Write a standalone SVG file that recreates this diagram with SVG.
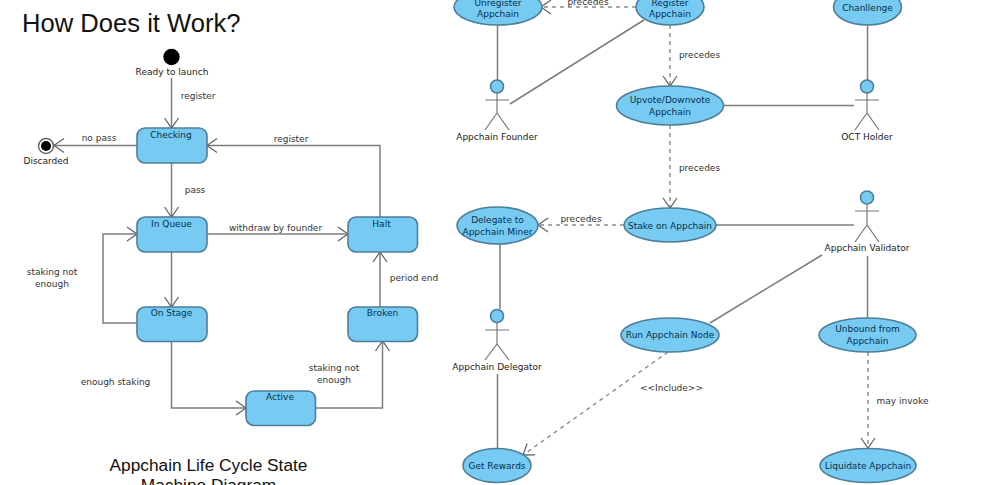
<svg xmlns="http://www.w3.org/2000/svg" width="996" height="485" viewBox="0 0 996 485">
<defs>
<marker id="open" markerUnits="userSpaceOnUse" markerWidth="14" markerHeight="16" refX="11" refY="7" orient="auto" overflow="visible"><path d="M1 0L11 7L1 14" fill="none" stroke="#666" stroke-width="1.3"/></marker>
</defs>
<style>
.t{font-family:"Liberation Sans",Arial,sans-serif;fill:#111}
.h{font-size:25.6px}
.c{font-size:17.3px;text-anchor:middle}
.l{font-family:"DejaVu Sans",sans-serif;font-size:9px;fill:#333;text-anchor:middle}
.a{font-family:"DejaVu Sans",sans-serif;font-size:9px;fill:#222;text-anchor:middle}
.n{font-family:"DejaVu Sans",sans-serif;font-size:9px;fill:#07304c;text-anchor:middle}
.s{fill:#77cbf3;stroke:#4d7f99;stroke-width:1.6}
.e{fill:none;stroke:#7d7d7d;stroke-width:1.5}
.d{fill:none;stroke:#8a8a8a;stroke-width:1.4;stroke-dasharray:4 4}
.f{fill:none;stroke:#777;stroke-width:1.2}
</style>
<rect width="996" height="485" fill="#fff"/>
<text class="t h" x="22" y="32">How Does it Work?</text>
<text class="t c" x="208.500" y="471">Appchain Life Cycle State</text>
<text class="t c" x="208.500" y="491">Machine Diagram</text>

<g id="connectors">
<path class="e" marker-end="url(#open)" d="M171.500 78V128"/>
<path class="e" marker-end="url(#open)" d="M137 145.500H54"/>
<path class="e" marker-end="url(#open)" d="M380 217V145.500H207"/>
<path class="e" marker-end="url(#open)" d="M171.500 163V217"/>
<path class="e" marker-end="url(#open)" d="M207 234H348"/>
<path class="e" marker-end="url(#open)" d="M137 323H103V234H137"/>
<path class="e" marker-end="url(#open)" d="M171.500 252V307"/>
<path class="e" marker-end="url(#open)" d="M171.500 341V408H246"/>
<path class="e" marker-end="url(#open)" d="M315 408H382.500V341"/>
<path class="e" marker-end="url(#open)" d="M380 307V252"/>
<path class="d" marker-end="url(#open)" d="M636 7H541"/>
<path class="d" marker-end="url(#open)" d="M670 25V86"/>
<path class="d" marker-end="url(#open)" d="M670 125V208"/>
<path class="d" marker-end="url(#open)" d="M624 225H538"/>
<path class="d" marker-end="url(#open)" d="M668 352L523 455"/>
<path class="d" marker-end="url(#open)" d="M868 352V448"/>
<path class="e" d="M497.500 25V80"/>
<path class="e" d="M644 20L510 104"/>
<path class="e" d="M724 105.500H854"/>
<path class="e" d="M867.500 25V80"/>
<path class="e" d="M716 225H854"/>
<path class="e" d="M822 255L710 323"/>
<path class="e" d="M867.500 256V318"/>
<path class="e" d="M500 244V309"/>
<path class="e" d="M497.500 374V449"/>
</g>

<g id="start"><circle cx="171.500" cy="57" r="8.200" fill="#000"/><text class="a" x="172" y="75">Ready to launch</text></g>
<g id="discarded"><circle cx="46" cy="146" r="7.500" fill="#fff" stroke="#666" stroke-width="1.500"/><circle cx="46" cy="146" r="5" fill="#000"/><text class="a" x="46" y="164">Discarded</text></g>
<g id="checking"><rect class="s" x="137" y="128" width="70" height="35" rx="8"/><text class="n" x="171" y="138">Checking</text></g>
<g id="in-queue"><rect class="s" x="137" y="217" width="70" height="35" rx="8"/><text class="n" x="171.500" y="227">In Queue</text></g>
<g id="on-stage"><rect class="s" x="137" y="307" width="70" height="34.500" rx="8"/><text class="n" x="171.500" y="316">On Stage</text></g>
<g id="active"><rect class="s" x="246" y="391" width="69.500" height="34.500" rx="8"/><text class="n" x="280" y="400">Active</text></g>
<g id="broken"><rect class="s" x="348" y="307" width="69.500" height="34.500" rx="8"/><text class="n" x="382.500" y="316">Broken</text></g>
<g id="halt"><rect class="s" x="348" y="217" width="69.500" height="35" rx="8"/><text class="n" x="381.500" y="227">Halt</text></g>

<g id="state-labels">
<text class="l" x="198" y="99">register</text>
<text class="l" x="99" y="141">no pass</text>
<text class="l" x="291" y="142">register</text>
<text class="l" x="195" y="193">pass</text>
<text class="l" x="275.500" y="231">withdraw by founder</text>
<text class="l" x="52" y="275">staking not</text>
<text class="l" x="52" y="287">enough</text>
<text class="l" x="414" y="281">period end</text>
<text class="l" x="334" y="371">staking not</text>
<text class="l" x="334" y="383">enough</text>
<text class="l" x="115.500" y="385">enough staking</text>
<text class="l" x="588" y="5">precedes</text>
<text class="l" x="699.500" y="58">precedes</text>
<text class="l" x="699.500" y="171">precedes</text>
<text class="l" x="581" y="222">precedes</text>
<text class="l" x="671.500" y="391">&lt;&lt;Include&gt;&gt;</text>
<text class="l" x="902.500" y="404">may invoke</text>
</g>

<g id="unregister"><ellipse class="s" cx="498" cy="7" rx="44" ry="18"/><text class="n" x="498" y="6">Unregister</text><text class="n" x="498" y="17">Appchain</text></g>
<g id="register"><ellipse class="s" cx="670" cy="7" rx="34" ry="18"/><text class="n" x="670" y="6">Register</text><text class="n" x="670" y="17">Appchain</text></g>
<g id="challenge"><ellipse class="s" cx="867.500" cy="7" rx="34" ry="18"/><text class="n" x="867.500" y="11">Chanllenge</text></g>
<g id="upvote"><ellipse class="s" cx="670" cy="105.500" rx="53.500" ry="19.500"/><text class="n" x="670" y="103">Upvote/Downvote</text><text class="n" x="670" y="115">Appchain</text></g>
<g id="stake"><ellipse class="s" cx="670" cy="225" rx="46" ry="17"/><text class="n" x="670" y="229">Stake on Appchain</text></g>
<g id="delegate"><ellipse class="s" cx="497.500" cy="225.500" rx="40.500" ry="18.500"/><text class="n" x="497.500" y="223">Delegate to</text><text class="n" x="497.500" y="235">Appchain Miner</text></g>
<g id="run-node"><ellipse class="s" cx="670" cy="335" rx="49" ry="17"/><text class="n" x="670" y="338">Run Appchain Node</text></g>
<g id="unbound"><ellipse class="s" cx="867.500" cy="335" rx="48.500" ry="17"/><text class="n" x="867.500" y="332">Unbound from</text><text class="n" x="867.500" y="344">Appchain</text></g>
<g id="rewards"><ellipse class="s" cx="497" cy="465.500" rx="34" ry="17"/><text class="n" x="497" y="469">Get Rewards</text></g>
<g id="liquidate"><ellipse class="s" cx="868" cy="465.500" rx="48" ry="17"/><text class="n" x="868" y="469">Liquidate Appchain</text></g>

<g id="founder"><circle class="s" cx="497" cy="86.500" r="6.500"/><path class="f" d="M485 100H509M497 93V113M485 130L497 113L509 130"/><text class="a" x="497" y="140">Appchain Founder</text></g>
<g id="oct-holder"><circle class="s" cx="867" cy="86.500" r="6.500"/><path class="f" d="M855 100H879M867 93V113M855 130L867 113L879 130"/><text class="a" x="867" y="140">OCT Holder</text></g>
<g id="validator"><circle class="s" cx="867" cy="197.500" r="6.500"/><path class="f" d="M855 211H879M867 204V225M855 242L867 225L879 242"/><text class="a" x="867" y="251">Appchain Validator</text></g>
<g id="delegator"><circle class="s" cx="497" cy="316" r="6.500"/><path class="f" d="M485 330H509M497 322.500V344M485 360L497 344L509 360"/><text class="a" x="497" y="369.500">Appchain Delegator</text></g>
</svg>
